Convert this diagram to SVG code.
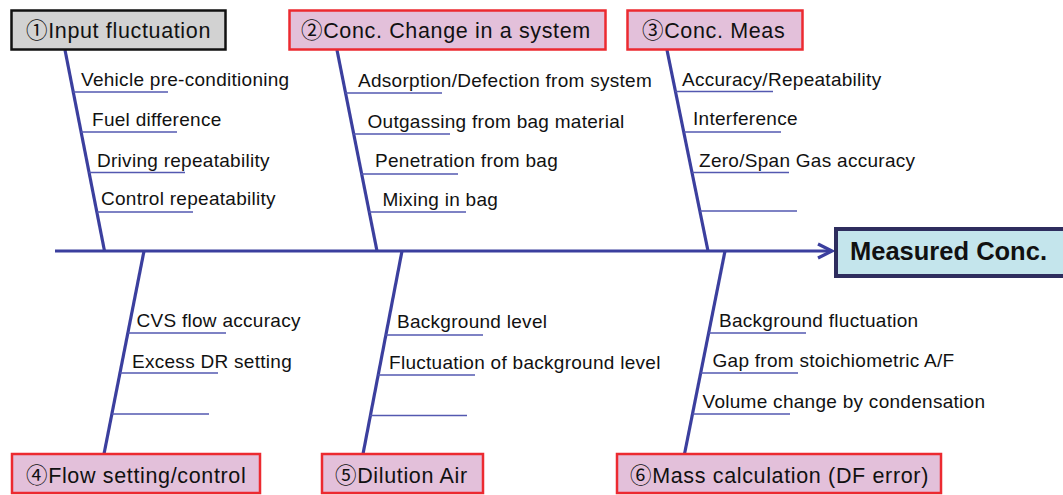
<svg xmlns="http://www.w3.org/2000/svg" width="1063" height="495" viewBox="0 0 1063 495">
  <style>
    .cause rect { fill: #e3c0da; stroke: #ec2a30; stroke-width: 2.5; }
    .cause.gray rect { fill: #d2d2d2; stroke: #111111; }
    .title { font-family: "Liberation Sans", "Noto Sans CJK JP", "DejaVu Sans", sans-serif; font-size: 21.5px; fill: #111111; letter-spacing: 0.65px; }
    .item { font-family: "Liberation Sans", "Noto Sans CJK JP", sans-serif; font-size: 19px; fill: #111111; letter-spacing: 0.28px; }
    .bone { stroke: #3b3f9e; stroke-width: 3.2; fill: none; stroke-linecap: butt; }
    .twig { stroke: #5358b0; stroke-width: 1.3; fill: none; }
    .effect rect { fill: #c4e5ec; stroke: #2e2d5e; stroke-width: 4; }
    .effect text { font-family: "Liberation Sans", Arial, sans-serif; font-size: 25.5px; font-weight: bold; fill: #111111; }
  </style>

  <!-- spine, main bones and twigs -->
  <g id="connectors">
    <line class="bone" x1="55" y1="251" x2="830" y2="251"/>
    <polyline class="bone" points="818,244 832,251 818,258"/>

    <!-- upper bones -->
    <line class="bone" x1="65" y1="50" x2="104.5" y2="251"/>
    <line class="bone" x1="337" y1="50" x2="377" y2="251"/>
    <line class="bone" x1="667" y1="50" x2="708" y2="251"/>

    <!-- lower bones -->
    <line class="bone" x1="144" y1="251" x2="104" y2="454"/>
    <line class="bone" x1="402" y1="251" x2="363" y2="454"/>
    <line class="bone" x1="725" y1="251" x2="684.5" y2="454"/>

    <!-- twigs of bone 1 -->
    <line class="twig" x1="73" y1="92" x2="168" y2="92"/>
    <line class="twig" x1="81" y1="132" x2="177" y2="132"/>
    <line class="twig" x1="89" y1="172.5" x2="185" y2="172.5"/>
    <line class="twig" x1="97" y1="212" x2="193" y2="212"/>

    <!-- twigs of bone 2 -->
    <line class="twig" x1="345" y1="93" x2="442" y2="93"/>
    <line class="twig" x1="353" y1="134" x2="450" y2="134"/>
    <line class="twig" x1="361" y1="174" x2="458" y2="174"/>
    <line class="twig" x1="369" y1="212" x2="466" y2="212"/>

    <!-- twigs of bone 3 -->
    <line class="twig" x1="675" y1="91.5" x2="773" y2="91.5"/>
    <line class="twig" x1="684" y1="132" x2="781" y2="132"/>
    <line class="twig" x1="692" y1="172.5" x2="789" y2="172.5"/>
    <line class="twig" x1="700" y1="211" x2="797" y2="211"/>

    <!-- twigs of bone 4 -->
    <line class="twig" x1="128" y1="333" x2="226" y2="333"/>
    <line class="twig" x1="120" y1="373" x2="218" y2="373"/>
    <line class="twig" x1="112" y1="414" x2="209" y2="414"/>

    <!-- twigs of bone 5 -->
    <line class="twig" x1="385.5" y1="335" x2="483" y2="335"/>
    <line class="twig" x1="378" y1="375" x2="475" y2="375"/>
    <line class="twig" x1="370" y1="415.5" x2="467" y2="415.5"/>

    <!-- twigs of bone 6 -->
    <line class="twig" x1="708.5" y1="333" x2="806" y2="333"/>
    <line class="twig" x1="700.5" y1="373" x2="798" y2="373"/>
    <line class="twig" x1="692.5" y1="414" x2="790" y2="414"/>
  </g>

  <!-- cause 1 -->
  <g id="cause1" class="cause gray">
    <rect x="11.5" y="10.5" width="214" height="39"/>
    <text class="title" x="26" y="38">①Input fluctuation</text>
    <text class="item" x="81" y="86">Vehicle pre-conditioning</text>
    <text class="item" x="92" y="126">Fuel difference</text>
    <text class="item" x="97" y="166.5">Driving repeatability</text>
    <text class="item" x="101" y="205">Control repeatability</text>
  </g>

  <!-- cause 2 -->
  <g id="cause2" class="cause">
    <rect x="289.5" y="10.5" width="316" height="39"/>
    <text class="title" x="301" y="38">②Conc. Change in a system</text>
    <text class="item" x="358" y="87">Adsorption/Defection from system</text>
    <text class="item" x="367.5" y="127.5">Outgassing from bag material</text>
    <text class="item" x="375" y="166.5">Penetration from bag</text>
    <text class="item" x="382.5" y="206">Mixing in bag</text>
  </g>

  <!-- cause 3 -->
  <g id="cause3" class="cause">
    <rect x="627.5" y="10.5" width="175" height="39"/>
    <text class="title" x="642" y="38">③Conc. Meas</text>
    <text class="item" x="682" y="86">Accuracy/Repeatability</text>
    <text class="item" x="693" y="125">Interference</text>
    <text class="item" x="699" y="166.5">Zero/Span Gas accuracy</text>
  </g>

  <!-- cause 4 -->
  <g id="cause4" class="cause">
    <rect x="12" y="454" width="248" height="39"/>
    <text class="title" x="26" y="483">④Flow setting/control</text>
    <text class="item" x="136.5" y="327">CVS flow accuracy</text>
    <text class="item" x="132" y="367.5">Excess DR setting</text>
  </g>

  <!-- cause 5 -->
  <g id="cause5" class="cause">
    <rect x="322" y="454" width="161" height="39"/>
    <text class="title" x="335" y="483">⑤Dilution Air</text>
    <text class="item" x="397" y="328">Background level</text>
    <text class="item" x="389" y="369">Fluctuation of background level</text>
  </g>

  <!-- cause 6 -->
  <g id="cause6" class="cause">
    <rect x="617" y="454" width="324" height="39"/>
    <text class="title" x="630" y="483">⑥Mass calculation (DF error)</text>
    <text class="item" x="719" y="327">Background fluctuation</text>
    <text class="item" x="712.5" y="367">Gap from stoichiometric A/F</text>
    <text class="item" x="702.5" y="407.5">Volume change by condensation</text>
  </g>

  <!-- effect -->
  <g id="effect" class="effect">
    <rect x="836" y="229" width="232" height="47"/>
    <text x="850" y="260">Measured Conc.</text>
  </g>
</svg>
